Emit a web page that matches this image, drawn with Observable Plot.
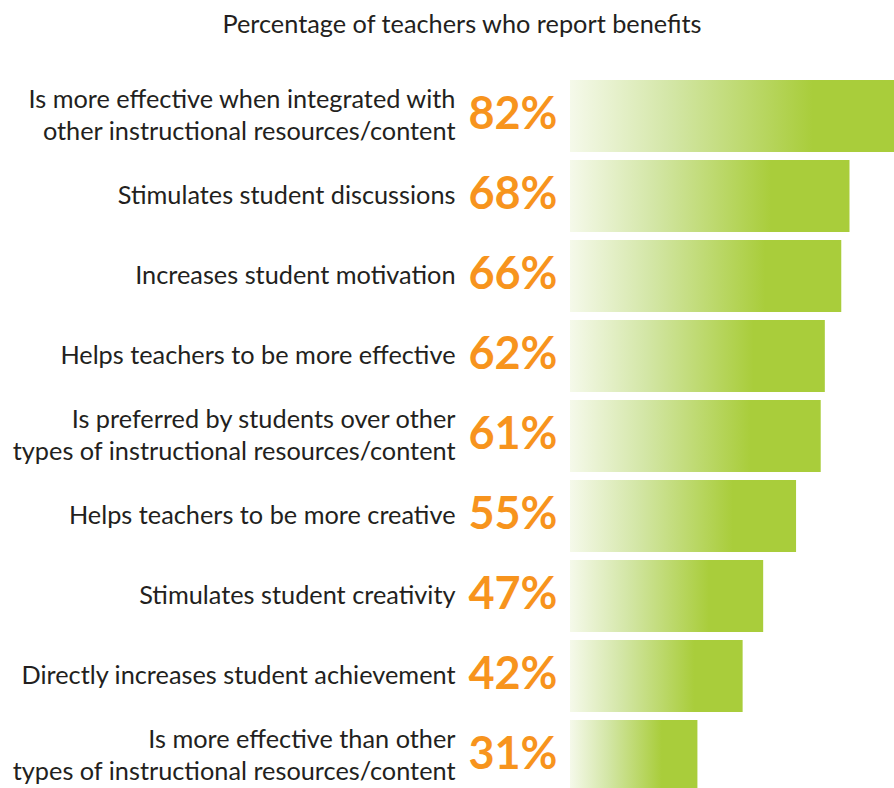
<!DOCTYPE html>
<html>
<head>
<meta charset="utf-8">
<script src="https://cdn.jsdelivr.net/npm/d3@7"></script>
<script src="https://cdn.jsdelivr.net/npm/@observablehq/plot@0.6"></script>
<style>
  html, body { margin: 0; padding: 0; background: #fff; }
  #title { height: 50px; width: 894px; text-align: center; font-family: Lato, sans-serif; font-size: 25.3px; color: #231f20; line-height: 46px; padding-left: 30px; box-sizing: border-box; }
</style>
</head>
<body>
<div id="title">Percentage of teachers who report benefits</div>
<div id="chart"></div>
<script>
const categories = [
  "Is more effective when integrated with\nother instructional resources/content",
  "Stimulates student discussions",
  "Increases student motivation",
  "Helps teachers to be more effective",
  "Is preferred by students over other\ntypes of instructional resources/content",
  "Helps teachers to be more creative",
  "Stimulates student creativity",
  "Directly increases student achievement",
  "Is more effective than other\ntypes of instructional resources/content"
];
const values = [82, 68, 66, 62, 61, 55, 47, 42, 31];
const valueLabels = ["82%", "68%", "66%", "62%", "61%", "55%", "47%", "42%", "31%"];

const data = categories.map((c, i) => ({category: c, value: values[i], label: valueLabels[i]}));

const chart = Plot.plot({
  width: 894,
  height: 738,
  marginLeft: 570,
  marginRight: 0,
  marginTop: 0,
  marginBottom: 0,
  style: {fontFamily: "Lato, sans-serif", background: "#fff"},
  x: {domain: [0, 78.83], axis: null},
  y: {domain: categories, range: [25.2, 747.9], paddingInner: 0.095, paddingOuter: 0.0475, axis: null},
  marks: [
    Plot.barX(data, {y: "category", x1: 0, x2: "value", fill: "url(#barGrad)", clip: true}),
    Plot.text(data, {y: "category", x: 0, text: "label", textAnchor: "end", dx: -13, dy: -2,
      fill: "#f7941d", fontSize: 45, fontWeight: "bold"}),
    Plot.text(data, {y: "category", x: 0, text: "category", textAnchor: "end", dx: -115, dy: -3,
      fill: "#231f20", fontSize: 25.3, lineHeight: 1.26})
  ]
});

const svg = d3.select(chart);
const defs = svg.insert("defs", ":first-child");
const g = defs.append("linearGradient").attr("id", "barGrad").attr("x1", "0").attr("x2", "1").attr("y1", "0").attr("y2", "0");
g.append("stop").attr("offset", "0").attr("stop-color", "#f5f9ea");
g.append("stop").attr("offset", "0.3").attr("stop-color", "#d3e6a6");
g.append("stop").attr("offset", "0.72").attr("stop-color", "#a9cd3b");
g.append("stop").attr("offset", "1").attr("stop-color", "#a9cd3b");

document.getElementById("chart").appendChild(chart);
</script>
</body>
</html>
